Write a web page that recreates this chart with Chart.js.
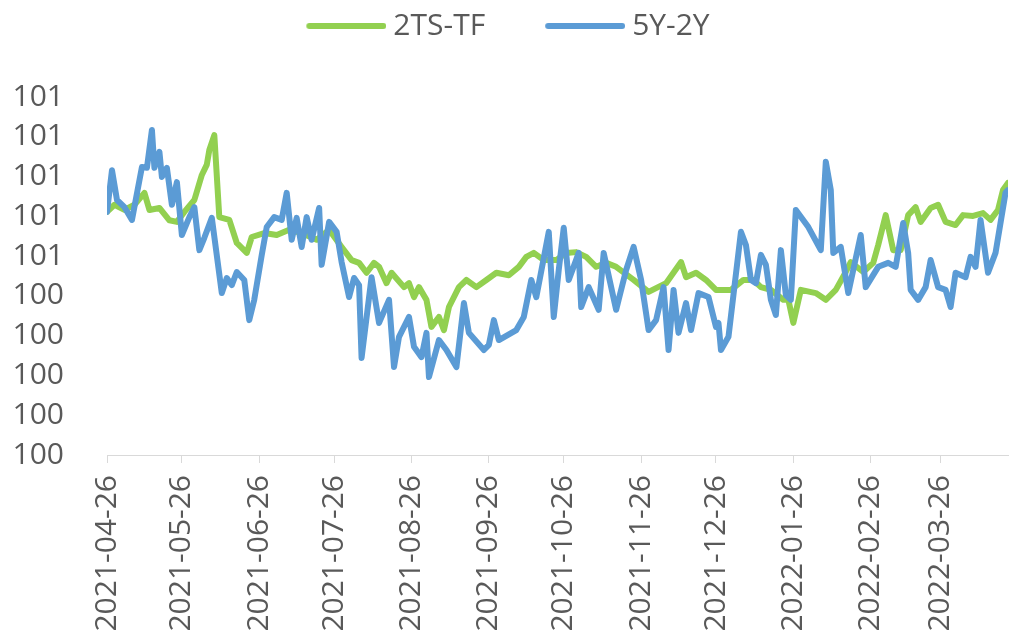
<!DOCTYPE html>
<html>
<head>
<meta charset="utf-8">
<script src="https://cdn.jsdelivr.net/npm/chart.js@4.4.1/dist/chart.umd.min.js"></script>
<style>
  body { margin: 0; background: #fff; }
  #chart { display: block; }
</style>
</head>
<body>
<canvas id="chart" width="1010" height="634"></canvas>
<script>
// ---------- Data ----------
const START_DATE = "2021-04-26";

const xTickLabels = [
  "2021-04-26", "2021-05-26", "2021-06-26", "2021-07-26", "2021-08-26", "2021-09-26",
  "2021-10-26", "2021-11-26", "2021-12-26", "2022-01-26", "2022-02-26", "2022-03-26"
];
const lastDate = "2022-04-22";

const yTicks = [100.0, 100.1, 100.2, 100.3, 100.4, 100.5, 100.6, 100.7, 100.8, 100.9];

// days since START_DATE
const tsDays = [
  0, 3, 7, 11, 15, 17, 21, 25, 28, 31, 35, 38, 40, 41, 43, 45, 49, 52, 56, 58,
  63, 68, 73, 78, 84, 89, 94, 98, 101, 104, 107, 109, 112, 114, 119, 121, 123, 125, 128, 130,
  133, 135, 137, 141, 144, 148, 152, 156, 161, 165, 168, 171, 175, 180, 184, 188, 192, 196, 200, 204,
  211, 217, 224, 230, 232, 236, 240, 244, 250, 255, 259, 262, 266, 271, 273, 275, 278, 284, 288, 292,
  296, 298, 303, 307, 309, 312, 315, 318, 321, 324, 326, 330, 333, 336, 340, 343, 347, 351, 354, 357,
  359, 361
];
const tsValues = [
  100.611, 100.629, 100.616, 100.629, 100.659, 100.616, 100.621, 100.590, 100.586, 100.611,
  100.641, 100.704, 100.730, 100.767, 100.804, 100.598, 100.591, 100.533, 100.508, 100.548,
  100.558, 100.553, 100.566, 100.558, 100.541, 100.566, 100.523, 100.490, 100.483, 100.458,
  100.483, 100.473, 100.432, 100.458, 100.422, 100.432, 100.397, 100.422, 100.390, 100.322,
  100.347, 100.314, 100.372, 100.422, 100.440, 100.422, 100.440, 100.458, 100.452, 100.473,
  100.498, 100.508, 100.490, 100.490, 100.508, 100.510, 100.498, 100.473, 100.483, 100.473,
  100.440, 100.410, 100.432, 100.485, 100.447, 100.458, 100.440, 100.415, 100.415, 100.440,
  100.440, 100.422, 100.415, 100.390, 100.390, 100.332, 100.415, 100.407, 100.390, 100.415,
  100.460, 100.485, 100.460, 100.483, 100.528, 100.603, 100.515, 100.515, 100.603, 100.623,
  100.586, 100.621, 100.629, 100.586, 100.578, 100.603, 100.601, 100.608, 100.591, 100.616,
  100.666, 100.684
];

const yyDays = [
  0, 2, 4, 7, 10, 14, 16, 18, 19, 21, 22, 24, 26, 28, 30, 33, 35, 37, 39, 42,
  46, 48, 50, 52, 55, 57, 59, 62, 64, 67, 70, 72, 74, 76, 78, 80, 82, 85, 86, 89,
  92, 94, 97, 99, 101, 102, 106, 109, 113, 115, 117, 121, 123, 126, 128, 129, 133, 136, 140, 143,
  145, 151, 153, 155, 157, 164, 167, 170, 172, 177, 179, 181, 183, 185, 189, 190, 193, 197, 199, 204,
  205, 208, 211, 214, 217, 220, 223, 225, 227, 229, 232, 234, 237, 241, 244, 245, 246, 249, 254, 256,
  258, 260, 262, 264, 266, 268, 270, 272, 274, 276, 281, 286, 288, 290, 291, 294, 297, 302, 304, 309,
  313, 316, 319, 321, 322, 325, 328, 330, 333, 336, 338, 340, 344, 346, 348, 350, 353, 356, 360, 361
];
const yyValues = [
  100.611, 100.716, 100.641, 100.623, 100.591, 100.724, 100.722, 100.817, 100.722, 100.762,
  100.699, 100.722, 100.629, 100.686, 100.553, 100.598, 100.623, 100.515, 100.546, 100.596,
  100.407, 100.445, 100.427, 100.460, 100.440, 100.339, 100.390, 100.503, 100.573, 100.598,
  100.591, 100.659, 100.541, 100.596, 100.523, 100.598, 100.541, 100.621, 100.478, 100.586,
  100.561, 100.485, 100.397, 100.445, 100.427, 100.244, 100.447, 100.332, 100.390, 100.221,
  100.297, 100.347, 100.272, 100.246, 100.307, 100.196, 100.289, 100.264, 100.221, 100.382,
  100.307, 100.264, 100.277, 100.339, 100.289, 100.314, 100.347, 100.440, 100.397, 100.561,
  100.347, 100.465, 100.571, 100.440, 100.508, 100.372, 100.422, 100.365, 100.508, 100.365,
  100.390, 100.465, 100.523, 100.440, 100.314, 100.339, 100.422, 100.264, 100.415, 100.307,
  100.382, 100.314, 100.407, 100.397, 100.322, 100.332, 100.264, 100.297, 100.561, 100.528,
  100.440, 100.432, 100.503, 100.478, 100.390, 100.352, 100.515, 100.402, 100.390, 100.616,
  100.573, 100.515, 100.737, 100.666, 100.508, 100.523, 100.407, 100.553, 100.422, 100.473,
  100.483, 100.473, 100.583, 100.508, 100.415, 100.390, 100.422, 100.490, 100.422, 100.415,
  100.372, 100.458, 100.447, 100.498, 100.473, 100.591, 100.458, 100.508, 100.659, 100.666
];

// ---------- Helpers ----------
function dayOffset(s) {
  const [y, m, d] = s.split("-").map(Number);
  const [y0, m0, d0] = START_DATE.split("-").map(Number);
  return Math.round((Date.UTC(y, m - 1, d) - Date.UTC(y0, m0 - 1, d0)) / 86400000);
}

function toPoints(days, values) {
  return days.map((d, i) => ({ x: d, y: values[i] }));
}

// legend swatch: a short round-capped line, shifted right so it sits close to the text
function legendLine(color) {
  const c = document.createElement("canvas");
  c.width = 96;
  c.height = 10;
  const ctx = c.getContext("2d");
  ctx.strokeStyle = color;
  ctx.lineWidth = 6;
  ctx.lineCap = "round";
  ctx.beginPath();
  ctx.moveTo(19, 5);
  ctx.lineTo(93, 5);
  ctx.stroke();
  return c;
}

// move the legend up into the top margin without touching the plot area
const legendShift = {
  id: "legendShift",
  afterLayout(chart) {
    chart.legend.top -= 41;
    chart.legend.bottom -= 41;
  }
};

const xTickDays = xTickLabels.map(dayOffset);
const TEXT = "#595959";
const GREEN = "#92D050";
const BLUE = "#5B9BD5";

Chart.defaults.font.family = "'Open Sans', sans-serif";
Chart.defaults.font.size = 30;
Chart.defaults.color = TEXT;

// ---------- Chart ----------
new Chart(document.getElementById("chart"), {
  type: "line",
  data: {
    datasets: [
      {
        label: "2TS-TF",
        data: toPoints(tsDays, tsValues),
        borderColor: GREEN,
        backgroundColor: GREEN,
        borderWidth: 6,
        borderCapStyle: "round",
        borderJoinStyle: "round",
        pointRadius: 0,
        pointStyle: legendLine(GREEN),
        tension: 0,
        order: 1
      },
      {
        label: "5Y-2Y",
        data: toPoints(yyDays, yyValues),
        borderColor: BLUE,
        backgroundColor: BLUE,
        borderWidth: 6,
        borderCapStyle: "round",
        borderJoinStyle: "round",
        pointRadius: 0,
        pointStyle: legendLine(BLUE),
        tension: 0,
        order: 0
      }
    ]
  },
  plugins: [legendShift],
  options: {
    responsive: false,
    animation: false,
    layout: { padding: { top: 0, right: 2, left: 0, bottom: 0 } },
    plugins: {
      tooltip: { enabled: false },
      legend: {
        position: "top",
        labels: {
          usePointStyle: true,
          pointStyleWidth: 80,
          padding: 52,
          color: TEXT,
          font: { size: 30 },
          sort: (a, b) => a.datasetIndex - b.datasetIndex
        }
      }
    },
    scales: {
      x: {
        type: "linear",
        min: 0,
        max: dayOffset(lastDate),
        afterBuildTicks: (scale) => {
          scale.ticks = xTickDays.map(v => ({ value: v }));
        },
        afterFit: (scale) => { scale.height = 179; },
        ticks: {
          autoSkip: false,
          minRotation: 90,
          maxRotation: 90,
          padding: 12,
          color: TEXT,
          font: { size: 30 },
          callback: (value, index) => xTickLabels[index]
        },
        grid: {
          drawOnChartArea: false,
          drawTicks: true,
          tickLength: 8,
          color: "#d9d9d9"
        },
        border: { display: true, color: "#d9d9d9", width: 1 }
      },
      y: {
        min: 100.0,
        max: 100.9125,
        afterBuildTicks: (scale) => {
          scale.ticks = yTicks.map(v => ({ value: v }));
        },
        afterFit: (scale) => { scale.width = 107; },
        ticks: {
          padding: 43,
          color: TEXT,
          font: { size: 30 },
          callback: (value) => Math.round(value).toString()
        },
        grid: { display: false, drawTicks: false },
        border: { display: false }
      }
    }
  }
});
</script>
</body>
</html>
